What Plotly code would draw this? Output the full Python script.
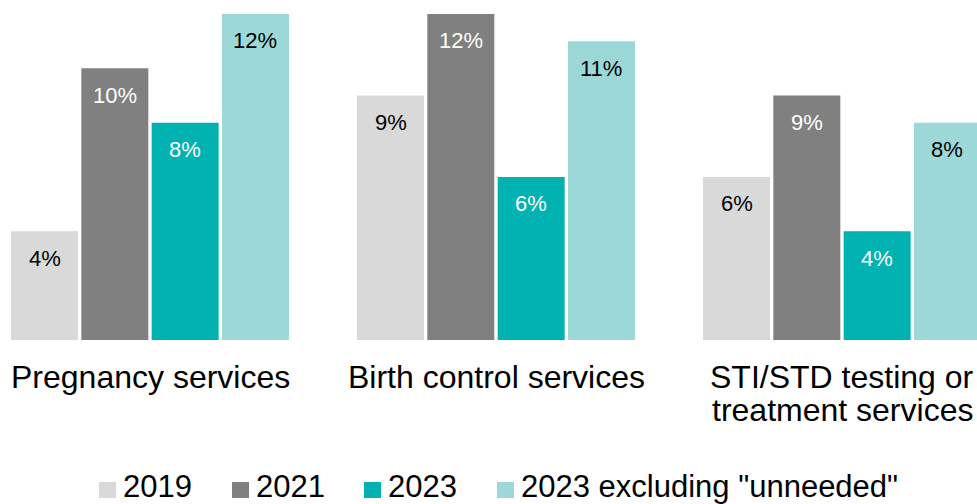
import plotly.graph_objects as go

# Share of respondents reporting each issue, by survey year
category_lines = [
    ["Pregnancy services"],
    ["Birth control services"],
    ["STI/STD testing or", "treatment services"],
]
series_names = ["2019", "2021", "2023", '2023 excluding "unneeded"']
values_2019 = [4, 9, 6]
values_2021 = [10, 12, 9]
values_2023 = [8, 6, 4]
values_2023_excl = [12, 11, 8]

series_values = [values_2019, values_2021, values_2023, values_2023_excl]
colors = ["#D9D9D9", "#808080", "#00B2B2", "#9CD8D8"]
label_colors = ["#000000", "#FFFFFF", "#FFFFFF", "#000000"]

FONT = "Liberation Sans, Arial, Helvetica, sans-serif"
W, H = 977, 504
PLOT_H = 340  # plot area height in px (bottom margin holds labels + legend)
PX_PER_CAT = 346.0


def paper_y(px):
    """Pixel row (from top of figure) -> paper y coordinate."""
    return (PLOT_H - px) / PLOT_H


bar_w = 67 / PX_PER_CAT
slot = 70.33 / PX_PER_CAT
first_off = -139 / PX_PER_CAT
x_pos = list(range(len(category_lines)))

fig = go.Figure()
annotations = []
for k, (name, vals, col, lcol) in enumerate(zip(series_names, series_values, colors, label_colors)):
    off = first_off + k * slot
    fig.add_trace(go.Bar(
        x=x_pos, y=vals, name=name,
        width=bar_w, offset=off,
        marker=dict(color=col, line=dict(width=0)),
        showlegend=False, hoverinfo="skip",
    ))
    # value labels near the top inside each bar
    for xi, v in zip(x_pos, vals):
        annotations.append(dict(
            x=xi + off + bar_w / 2, y=v, xref="x", yref="y",
            text=f"{v}%", showarrow=False,
            xanchor="center", yanchor="middle", yshift=-27,
            font=dict(family=FONT, size=22, color=lcol),
        ))

# Category labels centred under each group, tight line spacing
line_centres = [377, 410]
for xi, lines in zip(x_pos, category_lines):
    for li, txt in enumerate(lines):
        annotations.append(dict(
            x=xi, y=paper_y(line_centres[li]), xref="x", yref="paper",
            text=txt, showarrow=False, xanchor="center", yanchor="middle",
            borderpad=0,
            font=dict(family=FONT, size=32, color="#000000"),
        ))

# Legend drawn as swatches + text under the plot
legend_swatch_x = [99, 232, 364, 497]
legend_y = 486.5
for name, col, sx in zip(series_names, colors, legend_swatch_x):
    fig.add_shape(type="rect", xref="paper", yref="paper",
                  x0=sx / W, x1=(sx + 17) / W,
                  y0=paper_y(498), y1=paper_y(482),
                  fillcolor=col, line=dict(width=0))
    annotations.append(dict(
        x=(sx + 23) / W, y=paper_y(legend_y),
        xref="paper", yref="paper", text=name, showarrow=False,
        xanchor="left", yanchor="middle", borderpad=0,
        font=dict(family=FONT, size=31, color="#000000"),
    ))

fig.update_layout(
    width=W, height=H,
    margin=dict(l=0, r=0, t=0, b=H - PLOT_H, pad=0),
    barmode="overlay",
    plot_bgcolor="white", paper_bgcolor="white",
    showlegend=False,
    annotations=annotations,
    xaxis=dict(
        range=[-150 / PX_PER_CAT, (W - 150) / PX_PER_CAT],
        showticklabels=False, showgrid=False, zeroline=False,
        showline=False, ticks="",
    ),
    yaxis=dict(
        range=[0, PLOT_H / 27.17],
        visible=False, showgrid=False, zeroline=False,
    ),
    hovermode=False,
)

fig.write_html("out.html")
